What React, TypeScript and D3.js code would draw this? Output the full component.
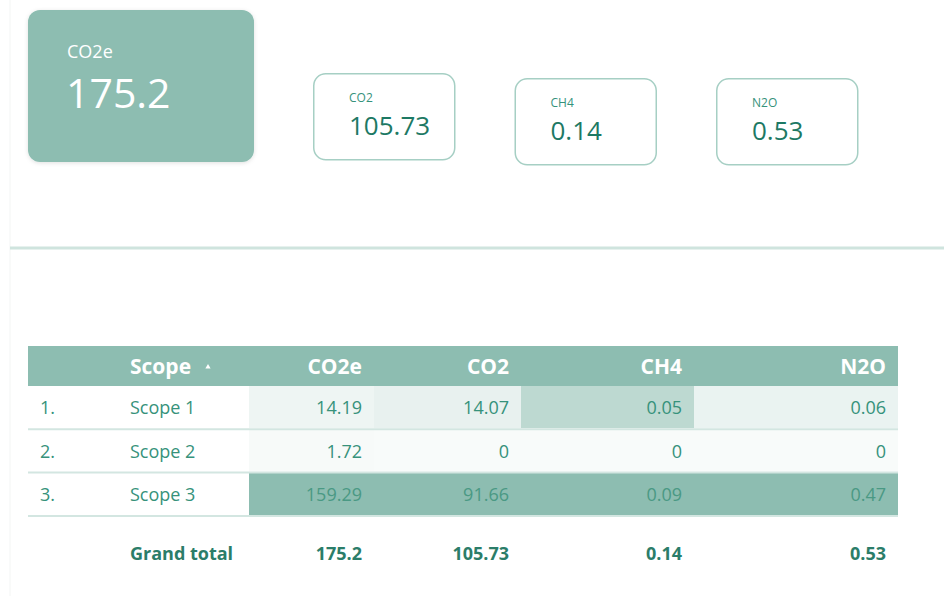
import React, { useEffect, useRef } from 'react';
import * as d3 from 'd3';

// Emission totals per gas
const gases = ['CO2e', 'CO2', 'CH4', 'N2O'];
const totals = [175.2, 105.73, 0.14, 0.53];

// Table rows
const scopes = ['Scope 1', 'Scope 2', 'Scope 3'];
const co2eValues = [14.19, 1.72, 159.29];
const co2Values = [14.07, 0, 91.66];
const ch4Values = [0.05, 0, 0.09];
const n2oValues = [0.06, 0, 0.47];

const TEAL = '#8dbdb1';
const LIGHT = '#f8fbfa';
const TEXT = '#36927b';
const DARK = '#1d7964';
const FONT = '"Open Sans", sans-serif';

const App = ({ width = 944, height = 596 }) => {
  const svgRef = useRef<SVGSVGElement>(null);

  useEffect(() => {
    if (!svgRef.current) return;
    const svg = d3.select(svgRef.current);
    svg.selectAll('*').remove();
    svg.attr('width', width).attr('height', height).style('font-family', FONT);

    const defs = svg.append('defs');
    const shadow = defs.append('filter').attr('id', 'shadow')
      .attr('x', '-10%').attr('y', '-10%').attr('width', '120%').attr('height', '130%');
    shadow.append('feDropShadow').attr('dx', 0).attr('dy', 1).attr('stdDeviation', 2)
      .attr('flood-color', '#000').attr('flood-opacity', 0.12);

    // faint left border + divider
    svg.append('line').attr('x1', 10).attr('x2', 10).attr('y1', 0).attr('y2', height)
      .attr('stroke', '#f3f5f4').attr('stroke-width', 1);
    svg.append('line').attr('x1', 10).attr('x2', width).attr('y1', 248).attr('y2', 248)
      .attr('stroke', '#cfe4de').attr('stroke-width', 3);

    // ---- KPI cards ----
    const big = svg.append('g').attr('transform', 'translate(28,10)');
    big.append('rect').attr('width', 226).attr('height', 152).attr('rx', 12)
      .attr('fill', TEAL).attr('filter', 'url(#shadow)');
    big.append('text').attr('x', 39).attr('y', 48).attr('fill', '#fff')
      .attr('font-size', 18).text(gases[0]);
    big.append('text').attr('x', 38).attr('y', 98).attr('fill', '#fff')
      .attr('font-size', 41).text(totals[0]);

    const cardX = d3.scalePoint<string>().domain(gases.slice(1)).range([313, 716]);
    const cardY = [73, 78, 78];
    gases.slice(1).forEach((gas, i) => {
      const g = svg.append('g').attr('transform', `translate(${cardX(gas)},${cardY[i]})`);
      g.append('rect').attr('x', 0.75).attr('y', 0.75).attr('width', 141).attr('height', 86).attr('rx', 12)
        .attr('fill', '#fff').attr('stroke', '#a6cfc4').attr('stroke-width', 1.5);
      g.append('text').attr('x', 36).attr('y', 29).attr('fill', TEXT)
        .attr('font-size', 12).attr('font-weight', 500).text(gas);
      g.append('text').attr('x', 36).attr('y', 62).attr('fill', DARK)
        .attr('font-size', 26).attr('font-weight', 500).text(totals[i + 1]);
    });

    // ---- table ----
    const tableLeft = 28;
    const tableRight = 898;
    const colEdges = [249, 374, 521, 694, 898];
    const columns = [co2eValues, co2Values, ch4Values, n2oValues];

    const rowY = d3.scaleBand<string>().domain(scopes).range([386, 515]).paddingInner(0.03);

    // header
    svg.append('rect').attr('x', tableLeft).attr('y', 346).attr('width', tableRight - tableLeft)
      .attr('height', 40).attr('fill', TEAL);
    svg.append('text').attr('x', 130).attr('y', 374).attr('fill', '#fff')
      .attr('font-size', 21).attr('font-weight', 700).text('Scope');
    svg.append('path').attr('d', d3.symbol(d3.symbolTriangle, 12)())
      .attr('transform', 'translate(208,367)').attr('fill', '#fff');
    gases.forEach((gas, i) => {
      svg.append('text').attr('x', colEdges[i + 1] - 12).attr('y', 374)
        .attr('text-anchor', 'end').attr('fill', '#fff')
        .attr('font-size', 21).attr('font-weight', 700).text(gas);
    });

    // heatmap cells, scaled per column
    columns.forEach((vals, c) => {
      const color = d3.scaleLinear<string>().domain([0, d3.max(vals) as number])
        .range([LIGHT, TEAL]).interpolate(d3.interpolateRgb);
      vals.forEach((v, r) => {
        const y = rowY(scopes[r]) as number;
        svg.append('rect').attr('x', colEdges[c]).attr('y', y)
          .attr('width', colEdges[c + 1] - colEdges[c]).attr('height', rowY.bandwidth())
          .attr('fill', color(v));
        svg.append('text').attr('x', colEdges[c + 1] - 12).attr('y', y + rowY.bandwidth() / 2 + 7)
          .attr('text-anchor', 'end').attr('fill', v === d3.max(vals) ? '#4a9984' : TEXT)
          .attr('font-size', 18).attr('font-weight', 500).text(v);
      });
    });

    scopes.forEach((s, r) => {
      const y = rowY(s) as number;
      svg.append('text').attr('x', 40).attr('y', y + rowY.bandwidth() / 2 + 7)
        .attr('fill', TEXT).attr('font-size', 18).attr('font-weight', 500).text(`${r + 1}.`);
      svg.append('text').attr('x', 130).attr('y', y + rowY.bandwidth() / 2 + 7)
        .attr('fill', TEXT).attr('font-size', 18).attr('font-weight', 500).text(s);
      svg.append('line').attr('x1', tableLeft).attr('x2', tableRight)
        .attr('y1', y + rowY.bandwidth() + 1).attr('y2', y + rowY.bandwidth() + 1)
        .attr('stroke', '#d3e6e1').attr('stroke-width', 2);
    });

    // grand total
    svg.append('text').attr('x', 130).attr('y', 560).attr('fill', '#2b7d69')
      .attr('font-size', 18).attr('font-weight', 700).text('Grand total');
    totals.forEach((t, i) => {
      svg.append('text').attr('x', colEdges[i + 1] - 12).attr('y', 560)
        .attr('text-anchor', 'end').attr('fill', '#2b7d69')
        .attr('font-size', 18).attr('font-weight', 700).text(t);
    });
  }, [width, height]);

  return (
    <div>
      <svg ref={svgRef} style={{ position: 'absolute', left: 0, top: 0, display: 'block' }}></svg>
    </div>
  );
};

export default App;
